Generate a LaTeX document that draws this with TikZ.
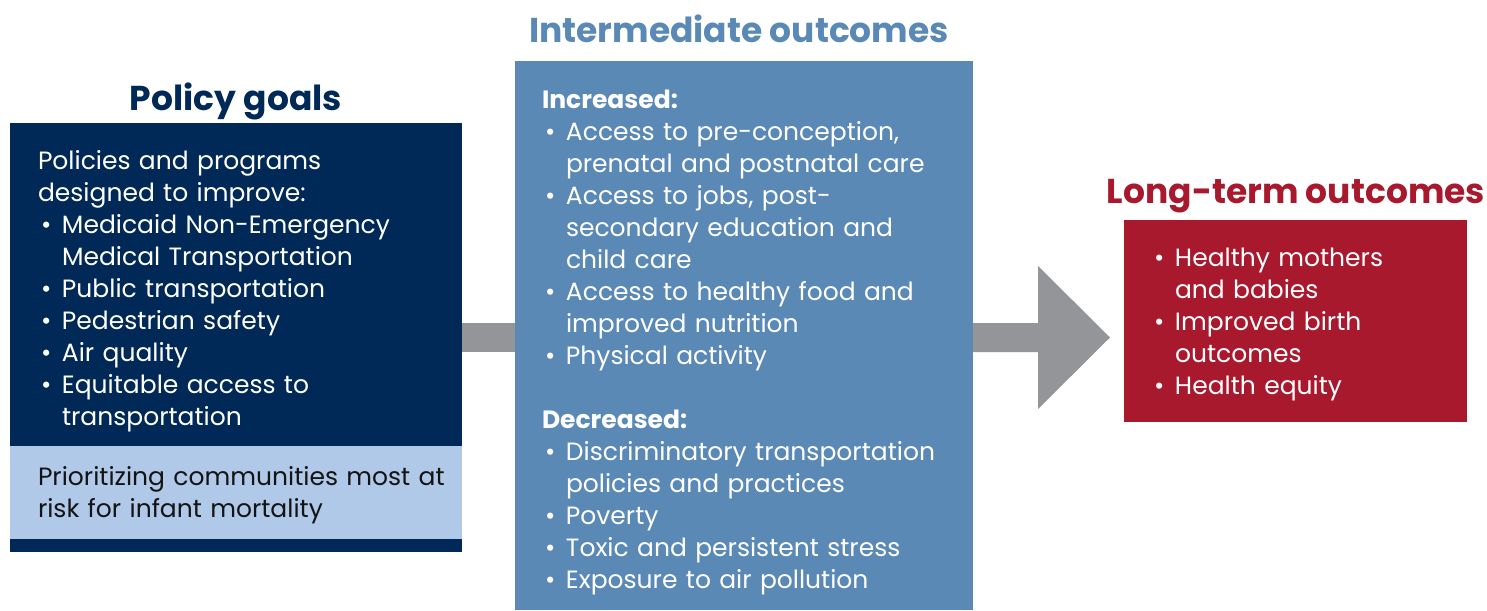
\documentclass[tikz,border=0pt]{standalone}
\usepackage{fontspec}
\setmainfont{Poppins}
\usetikzlibrary{calc}
\definecolor{navy}{RGB}{0,41,87}
\definecolor{lightb}{RGB}{176,201,233}
\definecolor{midb}{RGB}{91,137,181}
\definecolor{redc}{RGB}{168,25,46}
\definecolor{arrowgray}{RGB}{148,149,153}
\definecolor{darktext}{RGB}{20,20,20}
\newcommand\bulitem{\noindent\makebox[24pt][l]{\hspace{3pt}\textbullet}\strut}
\newcommand\bul{\par\bulitem}
\newcommand\cont{\\\hspace*{24pt}}
\begin{document}
\begin{tikzpicture}[x=1pt,y=-1pt,
  panel/.style={draw=none, inner sep=0pt, outer sep=0pt, anchor=north west},
  body/.style={anchor=north west, inner sep=0pt, outer sep=0pt, text width=#1, align=left, font=\fontsize{25}{32}\selectfont},
  title/.style={anchor=base, inner sep=0pt, font=\fontsize{34.5}{40}\selectfont\bfseries}]
\useasboundingbox (0,0) rectangle (1487,610);
% panels
\node[panel, fill=navy, minimum width=452pt, minimum height=429pt] (pg) at (10,123) {};
\node[panel, fill=lightb, minimum width=452pt, minimum height=93pt] (pr) at (10,446) {};
\node[panel, fill=midb, minimum width=458pt, minimum height=549pt] (io) at (515,61) {};
\node[panel, fill=redc, minimum width=343pt, minimum height=202pt] (lt) at (1124,220) {};
% titles
\node[title, text=navy] (pgtitle) at (236,110) {Policy goals};
\node[title, text=midb] (iotitle) at (739,43) {Intermediate outcomes};
\node[title, text=redc] (lttitle) at (1296,203) {Long-term outcomes};
% arrows
\fill[arrowgray] ($(pg.east)+(0,-14.5)$) rectangle ($(io.west |- pg.east)+(0,14.5)$);
\coordinate (tip) at ($(lt.west |- pg.east)+(-14,0)$);
\fill[arrowgray] ($(io.east |- pg.east)+(0,-14.5)$) -- ($(tip)+(-72,-14.5)$) -- ($(tip)+(-72,-71.5)$) -- (tip)
  -- ($(tip)+(-72,71.5)$) -- ($(tip)+(-72,14.5)$) -- ($(io.east |- pg.east)+(0,14.5)$) -- cycle;
% texts
\node[body=440pt, text=white] (pgt) at (38,146.6) {\noindent\strut Policies and programs\\designed to improve:%
\bul Medicaid Non-Emergency\cont Medical Transportation\bul Public transportation\bul Pedestrian safety%
\bul Air quality\bul Equitable access to\cont transportation};
\node[body=440pt, text=darktext] (prt) at (38,462.6) {\noindent\strut Prioritizing communities most at\\risk for infant mortality};
\node[body=450pt, text=white] (iot) at (542,85.6) {\noindent\strut\textbf{Increased:}%
\bul Access to pre-conception,\cont prenatal and postnatal care\bul Access to jobs, post-\cont secondary education and\cont child care%
\bul Access to healthy food and\cont improved nutrition\bul Physical activity\par\vskip32pt
\noindent\strut\textbf{Decreased:}\bul Discriminatory transportation\cont policies and practices\bul Poverty%
\bul Toxic and persistent stress\bul Exposure to air pollution};
\node[body=330pt, text=white] (ltt) at (1151,243.6) {\bulitem Healthy mothers\cont and babies\bul Improved birth\cont outcomes\bul Health equity};
\end{tikzpicture}
\end{document}
